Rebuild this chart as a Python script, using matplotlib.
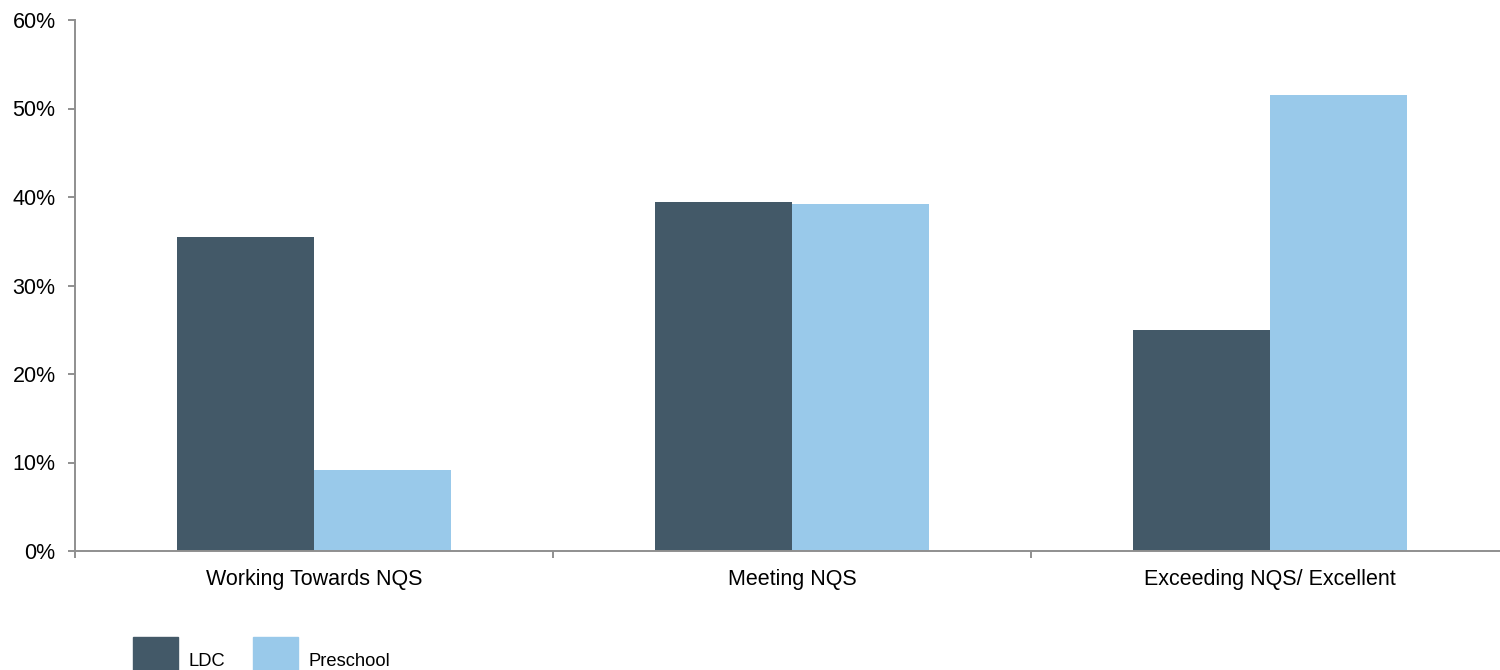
import matplotlib
matplotlib.use("Agg")
import matplotlib.pyplot as plt
import numpy as np
from matplotlib.ticker import FuncFormatter, FixedLocator
from matplotlib.patches import Rectangle

plt.rcParams['font.family'] = ['Liberation Sans', 'DejaVu Sans']

categories = ["Working Towards NQS", "Meeting NQS", "Exceeding NQS/ Excellent"]
series_names = ["LDC", "Preschool"]
ldc = [35.5, 39.4, 25.0]
preschool = [9.2, 39.2, 51.5]
yticks = [0, 10, 20, 30, 40, 50, 60]

colors = ["#435968", "#99C9EA"]
axis_grey = "#8f8f8f"
fs = 15.5
legend_fs = 13.2

W, H = 1500, 670
fig = plt.figure(figsize=(W / 100, H / 100), dpi=100)
ax = fig.add_axes([75 / W, 1 - 551 / H, (1509 - 75) / W, (551 - 20) / H])

x = np.arange(len(categories))
w = 0.2866
ax.bar(x - w / 2, ldc, width=w, color=colors[0], label=series_names[0])
ax.bar(x + w / 2, preschool, width=w, color=colors[1], label=series_names[1])

ax.set_xlim(-0.5, len(categories) - 0.5)
ax.set_ylim(0, 60)
ax.set_yticks(yticks)
ax.yaxis.set_major_formatter(FuncFormatter(lambda v, p: f"{v:.0f}%"))

ax.set_xticks(x)
ax.set_xticklabels(categories)
ax.xaxis.set_minor_locator(FixedLocator(np.arange(-0.5, len(categories), 1.0)))
ax.tick_params(axis='x', which='major', length=0, pad=13, labelsize=fs)
ax.tick_params(axis='x', which='minor', length=5, width=1.4, color=axis_grey, direction='out')
ax.tick_params(axis='y', length=5, width=1.4, color=axis_grey, direction='out', pad=9, labelsize=fs)

for s in ['top', 'right']:
    ax.spines[s].set_visible(False)
for s in ['left', 'bottom']:
    ax.spines[s].set_color(axis_grey)
    ax.spines[s].set_linewidth(1.4)

# legend keys along the bottom edge (pixel positions, y measured from top)
legend_x = [133, 253]
key_size = 45
key_top = 637
for lx, name, c in zip(legend_x, series_names, colors):
    fig.patches.append(Rectangle((lx / W, 1 - (key_top + key_size) / H),
                                 key_size / W, key_size / H,
                                 transform=fig.transFigure, color=c, clip_on=False))
    fig.text((lx + key_size + 10) / W, 1 - 661 / H, name, fontsize=legend_fs,
             ha='left', va='center')

fig.savefig("out.png", dpi=100)
